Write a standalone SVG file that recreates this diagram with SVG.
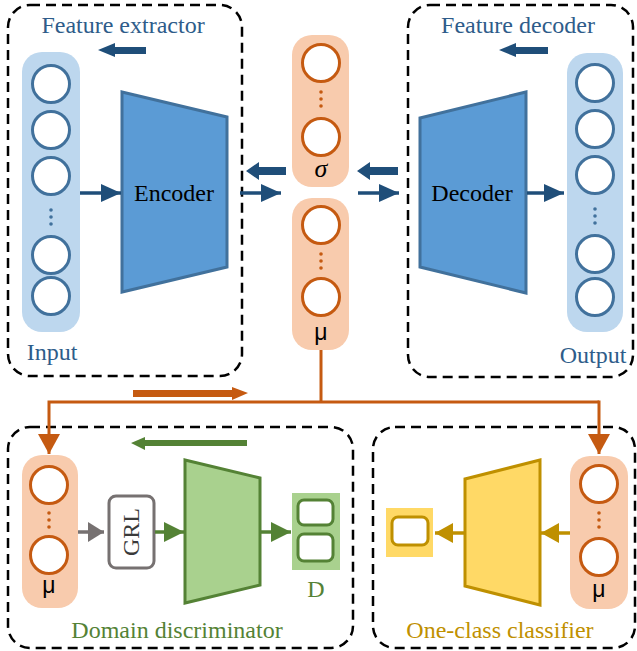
<svg xmlns="http://www.w3.org/2000/svg" width="637" height="651" viewBox="0 0 637 651">
<style>
.box{fill:none;stroke:#000;stroke-width:2.5;stroke-dasharray:10 6}
.t{font-family:"Liberation Serif","Times New Roman",serif;font-size:24px}
.mu{font-family:"Liberation Sans",Arial,sans-serif;font-size:23px;fill:#000}
.bcol{fill:#BDD7EE}
.bc{fill:#fff;stroke:#41719C;stroke-width:3}
.ocol{fill:#F8CBAD}
.oc{fill:#fff;stroke:#C55A11;stroke-width:3}
.bl{stroke:#1F4E79;stroke-width:3.5;fill:none}
.or{stroke:#C55A11;stroke-width:3;fill:none}
.gr{stroke:#548235;stroke-width:3.5;fill:none}
.gy{stroke:#767171;stroke-width:3.5;fill:none}
.go{stroke:#BF9000;stroke-width:3.5;fill:none}
</style>
<defs>
<marker id="hb" markerUnits="userSpaceOnUse" markerWidth="20" markerHeight="18" refX="20" refY="9" orient="auto"><path d="M0,0L20,9L0,18z" fill="#1F4E79"/></marker>
<marker id="ho" markerUnits="userSpaceOnUse" markerWidth="20" markerHeight="22" refX="20" refY="11" orient="auto"><path d="M0,0L20,11L0,22z" fill="#C55A11"/></marker>
<marker id="hg" markerUnits="userSpaceOnUse" markerWidth="20" markerHeight="20" refX="20" refY="10" orient="auto"><path d="M0,0L20,10L0,20z" fill="#548235"/></marker>
<marker id="hy" markerUnits="userSpaceOnUse" markerWidth="16" markerHeight="20" refX="16" refY="10" orient="auto"><path d="M0,0L16,10L0,20z" fill="#767171"/></marker>
<marker id="hd" markerUnits="userSpaceOnUse" markerWidth="18" markerHeight="20" refX="18" refY="10" orient="auto"><path d="M0,0L18,10L0,20z" fill="#BF9000"/></marker>
</defs>

<g id="feature-extractor">
<rect class="box" x="8" y="5" width="234" height="371" rx="22"/>
<text class="t" x="123" y="33" text-anchor="middle" fill="#2E5C8A">Feature extractor</text>
<polygon points="98,50 115,43 115,47 146,47 146,54 115,54 115,57" fill="#1F4E79"/>
</g>

<g id="input">
<rect class="bcol" x="22" y="52" width="58" height="280" rx="20"/>
<circle class="bc" cx="51" cy="84" r="18.5"/>
<circle class="bc" cx="51" cy="130" r="18.5"/>
<circle class="bc" cx="51" cy="176" r="18.5"/>
<circle cx="51" cy="210" r="1.8" fill="#41719C"/>
<circle cx="51" cy="217" r="1.8" fill="#41719C"/>
<circle cx="51" cy="224" r="1.8" fill="#41719C"/>
<circle class="bc" cx="51" cy="255" r="18.5"/>
<circle class="bc" cx="51" cy="296" r="18.5"/>
<text class="t" x="52" y="360" text-anchor="middle" fill="#2E5C8A">Input</text>
</g>

<g id="encoder">
<polygon points="122,92 227,117 227,267 122,292" fill="#5B9BD5" stroke="#41719C" stroke-width="3"/>
<text class="t" x="174" y="201" text-anchor="middle" fill="#000">Encoder</text>
</g>

<g id="sigma">
<rect class="ocol" x="292" y="35" width="57" height="152" rx="20"/>
<circle class="oc" cx="321" cy="63" r="18.5"/>
<circle cx="321" cy="92" r="1.8" fill="#C55A11"/>
<circle cx="321" cy="99" r="1.8" fill="#C55A11"/>
<circle cx="321" cy="106" r="1.8" fill="#C55A11"/>
<circle class="oc" cx="321" cy="137" r="18.5"/>
<text x="321" y="177" text-anchor="middle" font-family="Liberation Serif,serif" font-style="italic" font-size="26" fill="#000">σ</text>
</g>

<g id="mu">
<rect class="ocol" x="292" y="198" width="57" height="152" rx="20"/>
<circle class="oc" cx="321" cy="225" r="18.5"/>
<circle cx="321" cy="254" r="1.8" fill="#C55A11"/>
<circle cx="321" cy="261" r="1.8" fill="#C55A11"/>
<circle cx="321" cy="268" r="1.8" fill="#C55A11"/>
<circle class="oc" cx="321" cy="297" r="18.5"/>
<text class="mu" x="321" y="340" text-anchor="middle">μ</text>
</g>

<g id="feature-decoder">
<rect class="box" x="408" y="5" width="225" height="372" rx="22"/>
<text class="t" x="518" y="33" text-anchor="middle" fill="#2E5C8A">Feature decoder</text>
<polygon points="499,50 516,43 516,47 548,47 548,54 516,54 516,57" fill="#1F4E79"/>
</g>

<g id="decoder">
<polygon points="420,118 526,92 526,293 420,267" fill="#5B9BD5" stroke="#41719C" stroke-width="3"/>
<text class="t" x="472" y="201" text-anchor="middle" fill="#000">Decoder</text>
</g>

<g id="output">
<rect class="bcol" x="567" y="53" width="56" height="279" rx="20"/>
<circle class="bc" cx="595" cy="83" r="18.5"/>
<circle class="bc" cx="595" cy="129" r="18.5"/>
<circle class="bc" cx="595" cy="175" r="18.5"/>
<circle cx="595" cy="209" r="1.8" fill="#41719C"/>
<circle cx="595" cy="216" r="1.8" fill="#41719C"/>
<circle cx="595" cy="223" r="1.8" fill="#41719C"/>
<circle class="bc" cx="595" cy="254" r="18.5"/>
<circle class="bc" cx="595" cy="297" r="18.5"/>
<text class="t" x="593" y="363" text-anchor="middle" fill="#2E5C8A">Output</text>
</g>

<g id="domain-discriminator">
<rect class="box" x="8" y="427" width="345" height="221" rx="22"/>
<polygon points="131,443 145,437 145,440 247,440 247,446 145,446 145,450" fill="#548235"/>
<rect class="ocol" x="22" y="455" width="56" height="153" rx="20"/>
<circle class="oc" cx="49" cy="485" r="18.5"/>
<circle cx="49" cy="513" r="1.8" fill="#C55A11"/>
<circle cx="49" cy="520" r="1.8" fill="#C55A11"/>
<circle cx="49" cy="527" r="1.8" fill="#C55A11"/>
<circle class="oc" cx="49" cy="555" r="18.5"/>
<text class="mu" x="49" y="593" text-anchor="middle">μ</text>
<rect x="109" y="496" width="45" height="72" rx="7" fill="#fff" stroke="#767171" stroke-width="3"/>
<text class="t" transform="translate(139,532) rotate(-90)" x="0" y="0" text-anchor="middle" font-size="20" fill="#3a3a3a">GRL</text>
<polygon points="185,460 260,478 260,585 185,603" fill="#A9D18E" stroke="#548235" stroke-width="3"/>
<rect x="292" y="493" width="48" height="77" fill="#A9D18E"/>
<rect x="298" y="500" width="35" height="25" rx="6" fill="#fff" stroke="#548235" stroke-width="3"/>
<rect x="298" y="534" width="35" height="27" rx="6" fill="#fff" stroke="#548235" stroke-width="3"/>
<text class="t" x="316" y="597" text-anchor="middle" fill="#548235">D</text>
<text class="t" x="177" y="638" text-anchor="middle" fill="#548235">Domain discriminator</text>
</g>

<g id="one-class-classifier">
<rect class="box" x="373" y="427" width="262" height="221" rx="22"/>
<rect class="ocol" x="570" y="456" width="58" height="153" rx="20"/>
<circle class="oc" cx="599" cy="484" r="18.5"/>
<circle cx="599" cy="513" r="1.8" fill="#C55A11"/>
<circle cx="599" cy="520" r="1.8" fill="#C55A11"/>
<circle cx="599" cy="527" r="1.8" fill="#C55A11"/>
<circle class="oc" cx="599" cy="557" r="18.5"/>
<text class="mu" x="599" y="597" text-anchor="middle">μ</text>
<polygon points="540,460 465,479 465,586 540,605" fill="#FFD966" stroke="#BF9000" stroke-width="3"/>
<rect x="386" y="508" width="47" height="49" fill="#FFD966"/>
<rect x="392" y="517" width="36" height="28" rx="6" fill="#fff" stroke="#BF9000" stroke-width="3"/>
<text class="t" x="500" y="638" text-anchor="middle" fill="#BF9000">One-class classifier</text>
</g>

<g id="connectors">
<line class="bl" x1="80" y1="193" x2="121" y2="193" marker-end="url(#hb)"/>
<line class="bl" x1="240" y1="193" x2="281" y2="193" marker-end="url(#hb)"/>
<line class="bl" x1="358" y1="193" x2="399" y2="193" marker-end="url(#hb)"/>
<line class="bl" x1="527" y1="193" x2="564" y2="193" marker-end="url(#hb)"/>
<polygon points="246,171 259,162 259,167 286,167 286,175 259,175 259,180" fill="#1F4E79"/>
<polygon points="357,171 370,162 370,167 398,167 398,175 370,175 370,180" fill="#1F4E79"/>
<polygon points="248,393 232,387 232,390 133,390 133,397 232,397 232,400" fill="#C55A11"/>
<line class="or" x1="321" y1="350" x2="321" y2="402"/>
<polyline class="or" points="599,402 49,402 49,454" marker-end="url(#ho)"/>
<line class="or" x1="599" y1="400.5" x2="599" y2="454" marker-end="url(#ho)"/>
<line class="gy" x1="78" y1="532" x2="104" y2="532" marker-end="url(#hy)"/>
<line class="gr" x1="155" y1="532" x2="184" y2="532" marker-end="url(#hg)"/>
<line class="gr" x1="261" y1="532" x2="291" y2="532" marker-end="url(#hg)"/>
<line class="go" x1="570" y1="533" x2="541" y2="533" marker-end="url(#hd)"/>
<line class="go" x1="464" y1="533" x2="435" y2="533" marker-end="url(#hd)"/>
</g>
</svg>
